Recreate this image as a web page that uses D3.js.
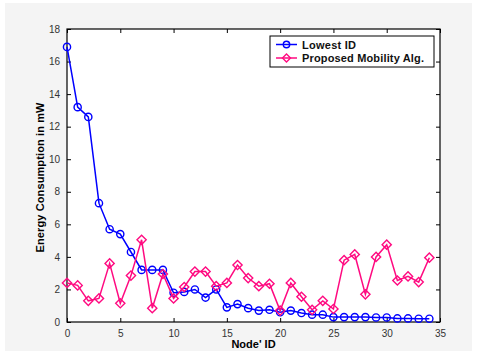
<!DOCTYPE html>
<html><head><meta charset="utf-8">
<script src="https://cdn.jsdelivr.net/npm/d3@7"></script>
<style>body{margin:0;background:#fff;} svg{display:block;}</style>
</head><body>
<svg id="c" width="477" height="351"></svg>
<script>
const nodes = d3.range(0, 35);
const lowestID = [16.9,13.2,12.6,7.3,5.7,5.4,4.3,3.2,3.2,3.2,1.8,1.85,2.0,1.5,2.0,0.9,1.1,0.85,0.7,0.75,0.6,0.7,0.55,0.45,0.45,0.3,0.3,0.3,0.3,0.28,0.28,0.22,0.22,0.2,0.2];
const proposed = [2.4,2.25,1.3,1.45,3.6,1.15,2.85,5.05,0.85,2.95,1.45,2.15,3.1,3.1,2.2,2.4,3.5,2.7,2.2,2.35,0.7,2.4,1.55,0.75,1.3,0.8,3.8,4.15,1.7,4.0,4.75,2.55,2.8,2.45,3.95];
const xTicks = [0,5,10,15,20,25,30,35];
const yTicks = [0,2,4,6,8,10,12,14,16,18];
const seriesNames = ["Lowest ID","Proposed Mobility Alg."];
const colors = ["#0000ff","#ff0a80"];

const svg = d3.select("#c");
svg.append("rect").attr("x",5).attr("y",3).attr("width",467).attr("height",348).attr("fill","#f4f4f4");

const L=67,R=440,T=29,B=322;
const x = d3.scaleLinear().domain([0,35]).range([L,R]);
const y = d3.scaleLinear().domain([0,18]).range([B,T]);

svg.append("rect").attr("x",L).attr("y",T).attr("width",R-L).attr("height",B-T).attr("fill","#fff");

const font = "Liberation Sans, Arial, sans-serif";
const gx = svg.append("g").attr("transform",`translate(0,${B})`)
  .call(d3.axisBottom(x).tickValues(xTicks).tickSizeInner(-4).tickSizeOuter(0).tickPadding(8));
const gy = svg.append("g").attr("transform",`translate(${L},0)`)
  .call(d3.axisLeft(y).tickValues(yTicks).tickSizeInner(-4).tickSizeOuter(0).tickPadding(7));
const gxt = svg.append("g").attr("transform",`translate(0,${T})`)
  .call(d3.axisTop(x).tickValues(xTicks).tickSizeInner(-4).tickSizeOuter(0).tickFormat(""));
const gyr = svg.append("g").attr("transform",`translate(${R},0)`)
  .call(d3.axisRight(y).tickValues(yTicks).tickSizeInner(-4).tickSizeOuter(0).tickFormat(""));
[gx,gy,gxt,gyr].forEach(g=>{
  g.select(".domain").remove();
  g.selectAll("line").attr("stroke","#000");
  g.selectAll("text").attr("font-family",font).attr("font-size",10).attr("fill","#333");
});
svg.append("rect").attr("x",L).attr("y",T).attr("width",R-L).attr("height",B-T)
  .attr("fill","none").attr("stroke","#000").attr("stroke-width",1.2);

const line = d3.line().x((d,i)=>x(nodes[i])).y(d=>y(d));
const dataSets=[lowestID,proposed];
const diamond = (cx,cy,s)=>`M${cx},${cy-s}L${cx+s},${cy}L${cx},${cy+s}L${cx-s},${cy}Z`;

dataSets.forEach((ds,k)=>{
  svg.append("path").datum(ds).attr("d",line).attr("fill","none")
    .attr("stroke",colors[k]).attr("stroke-width",1.5);
  const g = svg.append("g");
  if(k===0){
    g.selectAll("circle").data(ds).join("circle")
      .attr("cx",(d,i)=>x(nodes[i])).attr("cy",d=>y(d)).attr("r",3.6)
      .attr("fill","none").attr("stroke",colors[k]).attr("stroke-width",1.4);
  } else {
    g.selectAll("path").data(ds).join("path")
      .attr("d",(d,i)=>diamond(x(nodes[i]),y(d),4.6))
      .attr("fill","none").attr("stroke",colors[k]).attr("stroke-width",1.4);
  }
});

// legend
const lg = svg.append("g");
lg.append("rect").attr("x",270).attr("y",36).attr("width",164).attr("height",31)
  .attr("fill","#fff").attr("stroke","#000").attr("stroke-width",1);
seriesNames.forEach((n,k)=>{
  const yy = 44.5 + k*13.5;
  lg.append("line").attr("x1",276).attr("x2",297).attr("y1",yy).attr("y2",yy)
    .attr("stroke",colors[k]).attr("stroke-width",1.5);
  if(k===0) lg.append("circle").attr("cx",286.5).attr("cy",yy).attr("r",3.2)
    .attr("fill","none").attr("stroke",colors[k]).attr("stroke-width",1.4);
  else lg.append("path").attr("d",diamond(286.5,yy,4)).attr("fill","none")
    .attr("stroke",colors[k]).attr("stroke-width",1.4);
  lg.append("text").attr("x",302).attr("y",yy+4).text(n)
    .attr("font-family",font).attr("font-size",11).attr("font-weight","bold").attr("fill","#111")
    .attr("textLength", k===0 ? 54 : 122).attr("lengthAdjust","spacing");
});

svg.append("text").attr("x",(L+R)/2).attr("y",348).attr("text-anchor","middle")
  .attr("font-family",font).attr("font-size",11).attr("font-weight","bold").text("Node' ID");
svg.append("text").attr("transform",`translate(44,${(T+B)/2+2}) rotate(-90)`).attr("text-anchor","middle")
  .attr("font-family",font).attr("font-size",11).attr("font-weight","bold")
  .attr("textLength",150).attr("lengthAdjust","spacing").text("Energy Consumption in mW");
</script>
</body></html>
